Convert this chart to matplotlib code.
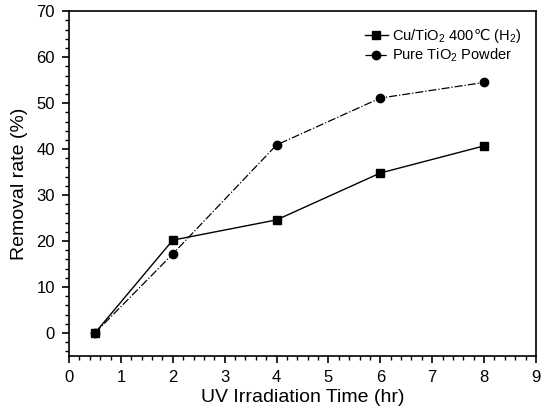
import matplotlib
matplotlib.use("Agg")
import matplotlib.pyplot as plt
from matplotlib.ticker import MultipleLocator

plt.rcParams['font.family'] = ['Liberation Sans', 'DejaVu Sans']
plt.rcParams['mathtext.fontset'] = 'custom'
plt.rcParams['mathtext.rm'] = 'Liberation Sans'
plt.rcParams['mathtext.it'] = 'Liberation Sans'
plt.rcParams['mathtext.sf'] = 'DejaVu Sans'

time_hr = [0.5, 2, 4, 6, 8]
cu_tio2 = [0.0, 20.2, 24.6, 34.8, 40.7]
pure_tio2 = [0.0, 17.2, 40.9, 51.1, 54.5]
label_cu = 'Cu/TiO$_2$ 400$\\mathsf{\u2103}$ (H$_2$)'
label_pure = 'Pure TiO$_2$ Powder'

fig = plt.figure(figsize=(5.52, 4.13), dpi=100)
ax = fig.add_axes([0.125, 0.138, 0.846, 0.835])

ax.plot(time_hr, cu_tio2, color='black', lw=1.0, ls='-', marker='s', ms=6, label=label_cu)
ax.plot(time_hr, pure_tio2, color='black', lw=0.9, ls='-.', marker='o', ms=6, label=label_pure)

ax.set_xlim(0, 9)
ax.set_ylim(-5, 70)
ax.xaxis.set_major_locator(MultipleLocator(1))
ax.xaxis.set_minor_locator(MultipleLocator(0.2))
ax.yaxis.set_major_locator(MultipleLocator(10))
ax.yaxis.set_minor_locator(MultipleLocator(2))
ax.tick_params(which='major', direction='out', length=5, width=1.2, labelsize=12, pad=5)
ax.tick_params(which='minor', direction='out', length=3, width=1.0)
ax.tick_params(top=False, right=False)
for s in ax.spines.values():
    s.set_linewidth(1.2)

ax.set_xlabel('UV Irradiation Time (hr)', fontsize=14, labelpad=3)
ax.set_ylabel('Removal rate (%)', fontsize=14, labelpad=6)

ax.legend(loc='upper right', frameon=False, fontsize=10.5, handlelength=1.6,
          borderaxespad=0.6, labelspacing=0.15, handletextpad=0.3)

fig.savefig('out.png', dpi=100)
